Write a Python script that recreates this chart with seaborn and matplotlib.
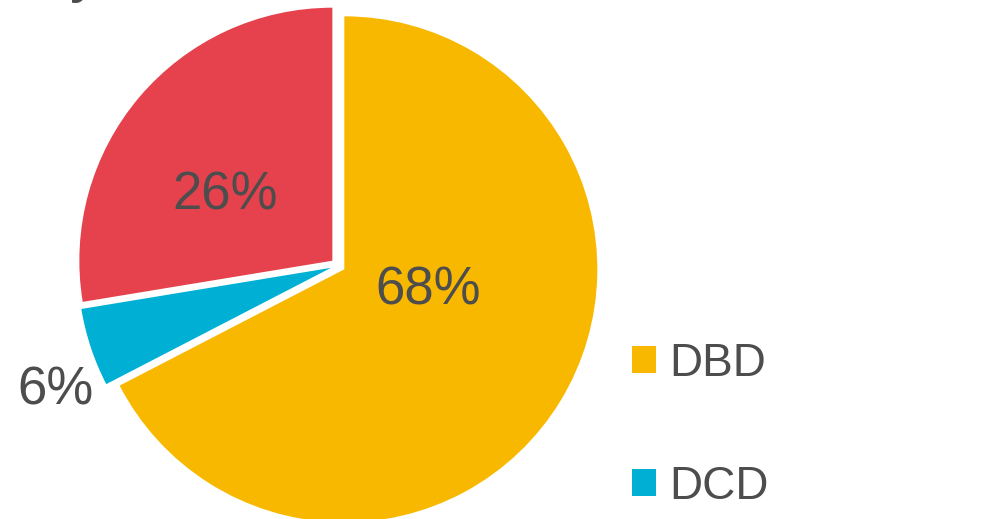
import matplotlib
matplotlib.use('Agg')
import matplotlib.pyplot as plt
import seaborn as sns
from matplotlib.patches import Patch

categories = ['DBD', 'DCD', 'Other']
shares = [67.4, 5.0, 27.6]
pct_labels = ['68%', '6%', '26%']
colors = ['#F9B800', '#00B0D4', '#E5424D']
legend_items = ['DBD', 'DCD']

sns.set_theme(style='white')
plt.rcParams['font.family'] = ['Liberation Sans', 'DejaVu Sans']

W, H = 999, 519
fig = plt.figure(figsize=(W / 100, H / 100), dpi=100)
ax = fig.add_axes([0, 0, 1, 1])

cx, cy, r = 338.0, H - 265.5, 253
# explode is in data units here (pixels)
ax.pie(shares, colors=colors, startangle=90, counterclock=False,
       center=(cx, cy), radius=r, explode=[7.4] * 3,
       wedgeprops=dict(linewidth=0), frame=True)
ax.set_xlim(0, W)
ax.set_ylim(0, H)
ax.set_aspect('equal')
ax.axis('off')

txt = '#4D4D4D'
label_pos = [(90, -25), (-283, -125), (-113, 70)]
for lab, (dx, dy) in zip(pct_labels, label_pos):
    ax.text(cx + dx, cy + dy, lab, ha='center', va='center',
            fontsize=38, color=txt)

# cut-off title fragment at top (only the descender tip shows)
fig.text(70 / W, 1 + 10 / H, 'y', fontsize=44, color=txt, va='baseline')

handles = [Patch(facecolor=c, edgecolor='none') for c in colors[:2]]
ax.legend(handles, legend_items, loc='upper left',
          bbox_to_anchor=(632 / W, 1 - 342 / H), bbox_transform=fig.transFigure,
          frameon=False, fontsize=33, labelcolor=txt,
          handlelength=0.52, handleheight=0.52, handletextpad=0.3,
          labelspacing=1.72, borderpad=0, borderaxespad=0)

fig.savefig('out.png', dpi=100)
